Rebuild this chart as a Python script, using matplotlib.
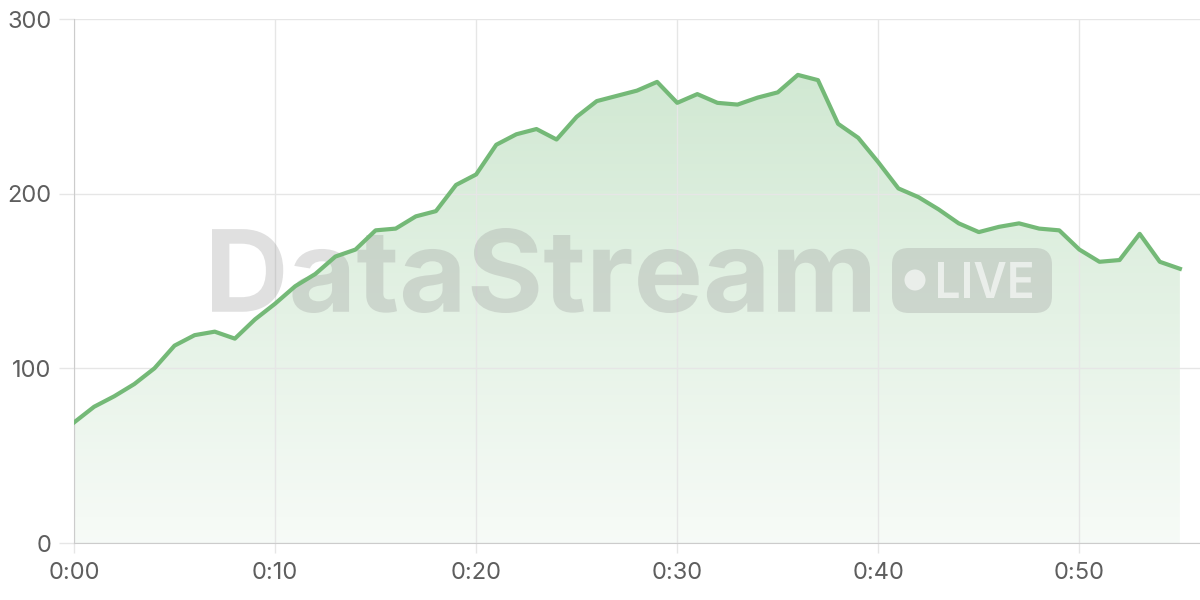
import numpy as np
import matplotlib.pyplot as plt
from matplotlib.patches import FancyBboxPatch, Ellipse, PathPatch
from matplotlib.colors import LinearSegmentedColormap
from matplotlib.textpath import TextPath
from matplotlib.font_manager import FontProperties
from matplotlib.transforms import Affine2D, IdentityTransform

plt.rcParams['font.family'] = ['Inter', 'DejaVu Sans']

minutes = list(range(56))
values = [69, 78, 84, 91, 100, 113, 119, 121, 117, 128,
          137, 147, 154, 164, 168, 179, 180, 187, 190, 205,
          211, 228, 234, 237, 231, 244, 253, 256, 259, 264,
          252, 257, 252, 251, 255, 258, 268, 265, 240, 232,
          218, 203, 198, 191, 183, 178, 181, 183, 180, 179,
          168, 161, 162, 177, 161, 157]
xticks = [0, 10, 20, 30, 40, 50]
xlabels = ['0:00', '0:10', '0:20', '0:30', '0:40', '0:50']
yticks = [0, 100, 200, 300]

line_color = '#74b977'
W, H = 1200, 600


def fx(px):
    return px / W


def fy(py):
    return 1 - py / H


def boxed_text(ax, s, weight, left, top, right, bottom, **kw):
    # text drawn as a path, stretched to fill a pixel box (y counted from the top)
    tp = TextPath((0, 0), s, size=100, prop=FontProperties(family='Inter', weight=weight))
    ext = tp.get_extents()
    sx = (right - left) / ext.width
    sy = (bottom - top) / ext.height
    tr = Affine2D().translate(-ext.x0, -ext.y0).scale(sx, sy).translate(left, H - bottom)
    patch = PathPatch(tr.transform_path(tp), transform=IdentityTransform(),
                      edgecolor='none', clip_on=False, **kw)
    ax.add_patch(patch)


fig = plt.figure(figsize=(12, 6), dpi=100)
ax = fig.add_axes([fx(74), fy(543), fx(1126), 524 / H])
ax.set_xlim(0, 56)
ax.set_ylim(0, 300)

# gradient fill under the line
fill = ax.fill_between(minutes, values, 0, color='none')
cmap = LinearSegmentedColormap.from_list('g', [(0.45, 0.73, 0.47, 0.06), (0.45, 0.73, 0.47, 0.33)])
grad = np.linspace(0, 1, 256).reshape(-1, 1)
img = ax.imshow(grad, cmap=cmap, aspect='auto', origin='lower',
                extent=[0, 55, 0, max(values)], zorder=1)
img.set_clip_path(fill.get_paths()[0], transform=ax.transData)

ax.plot(minutes, values, color=line_color, lw=3, zorder=5, solid_joinstyle='round')

ax.set_xticks(xticks)
ax.set_xticklabels(xlabels)
ax.set_yticks(yticks)
ax.grid(True, color='#e6e6e6', lw=1, zorder=0)
for s in ['top', 'right']:
    ax.spines[s].set_visible(False)
ax.spines['left'].set_color('#cccccc')
ax.spines['bottom'].set_color('#cccccc')
ax.tick_params(axis='both', colors='#e6e6e6', labelcolor='#5e5e5e', labelsize=17, width=1)
ax.tick_params(axis='y', length=11, pad=5)
ax.tick_params(axis='x', length=7, pad=7)

# watermark, between the fill and the line
boxed_text(ax, 'DataStream', 'bold', 212, 228, 870, 313,
           facecolor='#999999', alpha=0.3, zorder=3)
pill = FancyBboxPatch((fx(892), fy(313)), fx(160), 65 / H,
                      boxstyle='round,pad=0,rounding_size=0.014', transform=fig.transFigure,
                      mutation_aspect=2, facecolor='#999999', alpha=0.3, edgecolor='none',
                      zorder=3, clip_on=False)
ax.add_patch(pill)
ax.add_patch(Ellipse((fx(915), fy(280)), fx(21), 21 / H, transform=fig.transFigure,
                     facecolor='white', alpha=0.6, edgecolor='none', zorder=4, clip_on=False))
boxed_text(ax, 'LIVE', 'semibold', 938, 262, 1032, 298,
           facecolor='white', alpha=0.6, zorder=4)

fig.savefig('out.png', dpi=100)
